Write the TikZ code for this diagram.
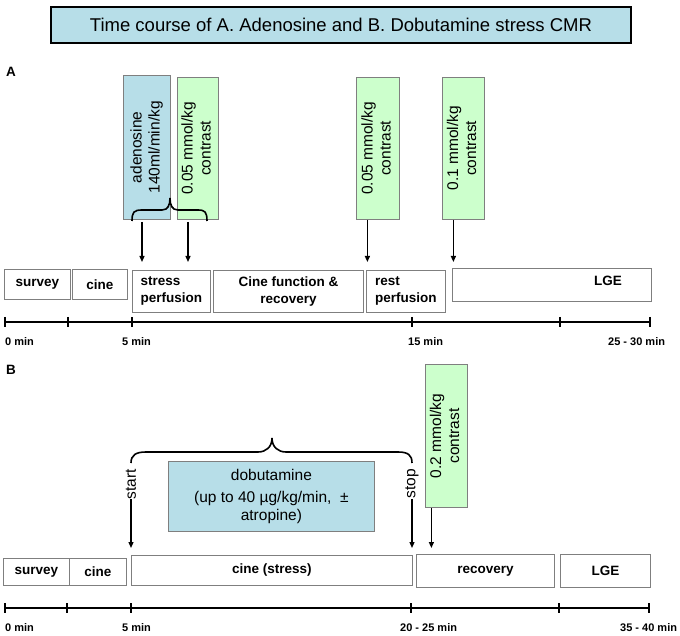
\documentclass[tikz,border=0pt]{standalone}
\usepackage{fontspec}
\setmainfont{Liberation Sans}
\usetikzlibrary{arrows.meta}
\definecolor{lblue}{HTML}{B7DEE8}
\definecolor{lgreen}{HTML}{CCFFCC}
\definecolor{bgray}{HTML}{7F7F7F}
\begin{document}
\begin{tikzpicture}[x=1pt,y=-1pt,
  wbox/.style={draw=bgray, line width=0.8pt, fill=white, inner sep=0pt, anchor=north west,
    font=\bfseries\fontsize{13.5}{17}\selectfont},
  gbox/.style={draw=bgray, line width=0.8pt, fill=lgreen, inner sep=0pt, anchor=north west,
    font=\fontsize{15.5}{18}\selectfont},
  bbox/.style={draw=bgray, line width=0.8pt, fill=lblue, inner sep=0pt, anchor=north west,
    font=\fontsize{15.5}{18}\selectfont},
  plain/.style={inner sep=0pt, font=\bfseries\fontsize{13.5}{17}\selectfont},
  ticklbl/.style={inner sep=0pt, anchor=west, font=\bfseries\fontsize{11}{13}\selectfont},
  rtext/.style={inner sep=0pt, font=\fontsize{15.5}{18}\selectfont},
  axisline/.style={line width=2pt},
  tickmark/.style={line width=1.5pt},
  arr/.style={line width=1.3pt, -{Triangle[length=6pt,width=5pt]}},
  bracestyle/.style={line width=1.6pt}
]
\useasboundingbox (0,0) rectangle (680,636);
\fill[white] (0,0) rectangle (680,636);

% title
\node[draw=black, line width=2pt, fill=lblue, anchor=north west, minimum width=580pt, minimum height=36pt,
  inner sep=0pt, font=\fontsize{18.5}{22}\selectfont] (title) at (50,6)
  {Time course of A. Adenosine and B. Dobutamine stress CMR};

% ---------------- Panel A ----------------
\node[plain, anchor=west] (labA) at (6,72) {A};

\node[bbox, minimum width=47pt, minimum height=144pt] (aden) at (123,75)
  {\rotatebox{90}{\begin{tabular}{@{}c@{}}adenosine\\140ml/min/kg\end{tabular}}};
\node[gbox, minimum width=41pt, minimum height=142pt] (g1) at (177,77)
  {\rotatebox{90}{\begin{tabular}{@{}c@{}}0.05 mmol/kg\\contrast\end{tabular}}};
\node[gbox, minimum width=43pt, minimum height=142pt] (g2) at (356,77)
  {\rotatebox{90}{\begin{tabular}{@{}c@{}}0.05 mmol/kg\\contrast\end{tabular}}};
\node[gbox, minimum width=42pt, minimum height=142pt] (g3) at (442,77)
  {\rotatebox{90}{\begin{tabular}{@{}c@{}}0.1 mmol/kg\\contrast\end{tabular}}};

% brace A
\draw[bracestyle] (132,221) .. controls (132,212) and (134,210) .. (142,210) -- (162,210)
  .. controls (168,210) and (170,205) .. (170,198)
  .. controls (170,205) and (172,210) .. (178,210) -- (198,210)
  .. controls (205,210) and (207,212) .. (207,221);

% boxes A
\node[wbox, minimum width=66pt, minimum height=30pt] (surveyA) at (4,269) {survey};
\node[wbox, minimum width=55pt, minimum height=30pt] (cineA) at (72,269) {cine};
\node[wbox, minimum width=78pt, minimum height=42pt, align=left] (stressA) at (132,270) {stress\\perfusion};
\node[wbox, minimum width=150pt, minimum height=42pt, align=center] (cinefA) at (213,270) {Cine function \&\\recovery};
\node[wbox, minimum width=79pt, minimum height=42pt, align=left] (restA) at (366,270) {rest\\perfusion};
\node[wbox, minimum width=199pt, minimum height=33pt] (lgeA) at (452,268) {};
\node[plain] (lgeAtxt) at (608,281) {LGE};

% arrows A
\coordinate (bA1) at (142,222);
\coordinate (bA2) at (188,222);
\coordinate (g2a) at ([xshift=-10.5pt]g2.south);
\coordinate (g3a) at ([xshift=-10pt]g3.south);
\draw[arr, shorten >=8pt] (bA1) -- (bA1 |- stressA.north);
\draw[arr, shorten >=8pt] (bA2) -- (bA2 |- stressA.north);
\draw[arr, shorten >=8pt] (g2a) -- (g2a |- restA.north);
\draw[arr, shorten >=6pt] (g3a) -- (g3a |- lgeA.north);

% axis A
\draw[axisline] (5,322) -- (650,322);
\foreach \xx in {5,68,132,412,560,650} \draw[tickmark] (\xx,317) -- (\xx,327);
\node[ticklbl] (tA0) at (5,342) {0 min};
\node[ticklbl] (tA5) at (122,342) {5 min};
\node[ticklbl] (tA15) at (408,342) {15 min};
\node[ticklbl] (tA25) at (608,342) {25 - 30 min};

% ---------------- Panel B ----------------
\node[plain, anchor=west] (labB) at (6,370) {B};

% brace B
\draw[bracestyle] (131,463) .. controls (131,455) and (136,452) .. (146,452) -- (258,452)
  .. controls (266,452) and (272,447) .. (272,438)
  .. controls (272,447) and (278,452) .. (286,452) -- (398,452)
  .. controls (408,452) and (412,455) .. (412,463);

\node[bbox, minimum width=206pt, minimum height=70pt, align=center] (dobu) at (168,461)
  {dobutamine\\[4pt](up to 40 µg/kg/min, \ ±\\atropine)};
\node[gbox, minimum width=42pt, minimum height=143pt] (gB) at (425,364)
  {\rotatebox{90}{\begin{tabular}{@{}c@{}}0.2 mmol/kg\\contrast\end{tabular}}};

\node[rtext] (start) at (131,484) {\rotatebox{90}{start}};
\node[rtext] (stop) at (412,484) {\rotatebox{90}{stop}};

% boxes B
\node[wbox, minimum width=66pt, minimum height=27pt] (surveyB) at (3,558) {survey};
\node[wbox, minimum width=57pt, minimum height=27pt] (cineB) at (69,558) {cine};
\node[wbox, minimum width=281pt, minimum height=30pt] (cinesB) at (131,555) {cine (stress)};
\node[wbox, minimum width=138pt, minimum height=33pt] (recB) at (416,554) {recovery};
\node[wbox, minimum width=90pt, minimum height=33pt] (lgeB) at (560,554) {LGE};

% arrows B
\coordinate (gBa) at ([xshift=-15pt]gB.south);
\draw[arr, shorten >=7pt] (start.south) -- (start.south |- cinesB.north);
\draw[arr, shorten >=7pt] (stop.south) -- (stop.south |- cinesB.north);
\draw[arr, shorten >=6pt] (gBa) -- (gBa |- recB.north);

% axis B
\draw[axisline] (5,608) -- (649,608);
\foreach \xx in {5,67,131,411,559,649} \draw[tickmark] (\xx,603) -- (\xx,613);
\node[ticklbl] (tB0) at (5,628) {0 min};
\node[ticklbl] (tB5) at (122,628) {5 min};
\node[ticklbl] (tB20) at (400,628) {20 - 25 min};
\node[ticklbl] (tB35) at (620,628) {35 - 40 min};
\end{tikzpicture}
\end{document}
